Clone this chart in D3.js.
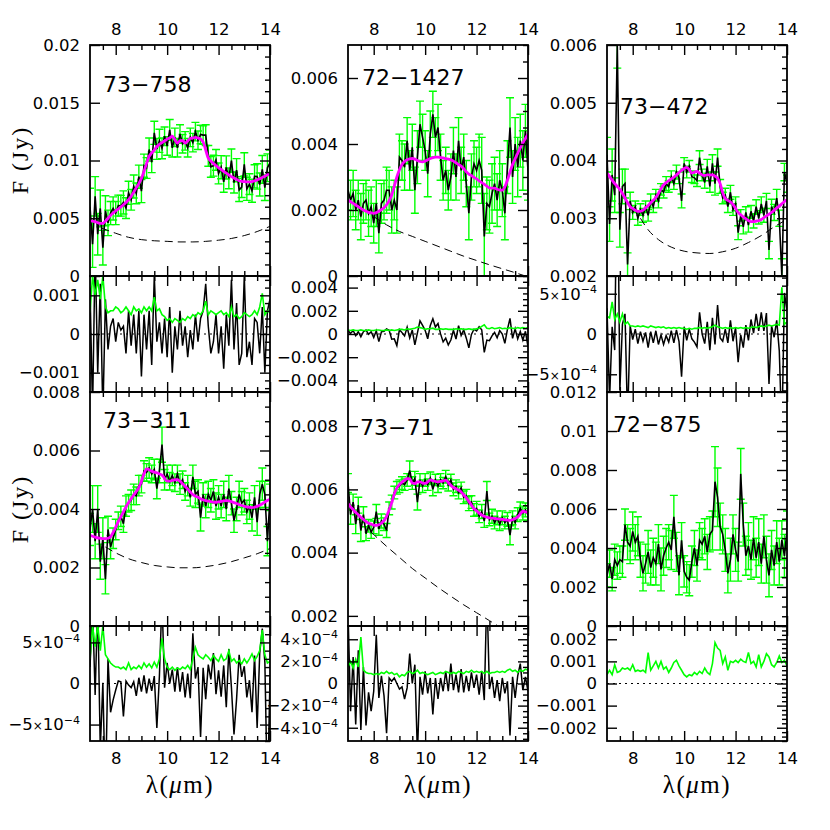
<!DOCTYPE html>
<meta charset="utf-8">
<head>
  <script src="https://cdn.jsdelivr.net/npm/d3@7"></script>
  <style>
    body { margin: 0; background: #fff; }
    svg { display: block; }
  </style>
</head>
<body>
<script type="text/javascript">

// wavelength grid in micron, shared by all six spectra
var lam = [7.0, 7.1, 7.2, 7.3, 7.4, 7.5, 7.6, 7.7, 7.8, 7.9,
  8.0, 8.1, 8.2, 8.3, 8.4, 8.5, 8.6, 8.7, 8.8, 8.9,
  9.0, 9.1, 9.2, 9.3, 9.4, 9.5, 9.6, 9.7, 9.8, 9.9,
  10.0, 10.1, 10.2, 10.3, 10.4, 10.5, 10.6, 10.7, 10.8, 10.9,
  11.0, 11.1, 11.2, 11.3, 11.4, 11.5, 11.6, 11.7, 11.8, 11.9,
  12.0, 12.1, 12.2, 12.3, 12.4, 12.5, 12.6, 12.7, 12.8, 12.9,
  13.0, 13.1, 13.2, 13.3, 13.4, 13.5, 13.6, 13.7, 13.8, 13.9,
  14.0];

// all fluxes below are in mJy (axis labels are written in Jy)
// flux = observed, model = fit (magenta), sig = residual-panel sigma (green line),
// bar = half length of the error bars in the upper panel

// ---- 73-758
var flux_73_758 = [6.0, 2.75, 6.9, 3.62, 5.85, 2.45, 5.65, 4.6, 5.45, 5.85,
  5.45, 6.1, 6.08, 6.37, 5.88, 7.2, 6.6, 7.75, 7.15, 8.6,
  7.35, 9.55, 9.35, 10.95, 9.85, 12.4, 11.0, 11.7, 11.05, 12.1,
  11.25, 12.65, 11.1, 12.0, 11.1, 12.3, 11.45, 11.7, 11.1, 12.0,
  11.55, 12.5, 11.75, 12.25, 12.2, 12.2, 10.4, 9.45, 9.55, 10.05,
  8.88, 9.42, 8.15, 9.4, 8.45, 10.0, 8.08, 9.16, 7.45, 7.7,
  9.67, 7.55, 7.95, 7.38, 8.63, 8.62, 7.92, 9.23, 7.64, 9.37,
  9.8];
var model_73_758 = [4.8, 4.75, 4.7, 4.62, 4.55, 4.55, 4.75, 5.0, 5.25, 5.45,
  5.65, 5.8, 5.98, 6.17, 6.38, 6.6, 6.9, 7.25, 7.65, 8.0,
  8.45, 9.05, 9.75, 10.35, 10.65, 10.9, 11.2, 11.4, 11.55, 11.7,
  11.85, 11.95, 12.1, 11.8, 11.5, 11.7, 11.75, 11.5, 11.7, 11.9,
  11.95, 12.0, 11.95, 11.85, 11.6, 10.9, 10.2, 9.95, 9.75, 9.55,
  9.38, 9.22, 9.05, 8.9, 8.75, 8.6, 8.48, 8.36, 8.25, 8.2,
  8.17, 8.15, 8.15, 8.18, 8.23, 8.32, 8.42, 8.53, 8.64, 8.77,
  8.9];
var sig_73_758 = [0.55, 1.5, 1.0, 1.4, 0.9, 1.5, 0.7, 0.55, 0.6, 0.6,
  0.7, 0.65, 0.55, 0.6, 0.7, 0.6, 0.5, 0.7, 0.6, 0.65,
  0.55, 0.7, 0.6, 0.7, 0.6, 0.95, 0.6, 0.65, 0.5, 0.45,
  0.35, 0.4, 0.3, 0.4, 0.35, 0.3, 0.4, 0.35, 0.45, 0.4,
  0.5, 0.45, 0.55, 0.5, 0.6, 0.85, 0.5, 0.6, 0.55, 0.5,
  0.55, 0.6, 0.5, 0.55, 0.45, 0.7, 0.45, 0.5, 0.4, 0.45,
  0.55, 0.5, 0.45, 0.5, 0.6, 0.5, 0.7, 1.05, 0.5, 0.6,
  0.55];
var bar_73_758 = [1.6, 2.0, 1.7, 1.8, 1.6, 1.5, 1.3, 1.1, 1.0, 1.0,
  1.0, 0.9, 0.9, 1.0, 0.9, 1.0, 0.9, 1.0, 0.9, 1.0,
  1.0, 1.0, 0.9, 1.0, 0.9, 1.0, 0.9, 1.0, 0.9, 0.8,
  0.8, 0.9, 0.8, 0.8, 0.8, 0.8, 0.8, 0.8, 0.8, 0.8,
  0.8, 0.8, 0.8, 0.8, 0.8, 0.9, 0.9, 0.9, 0.9, 0.9,
  0.9, 1.0, 0.9, 1.0, 0.9, 1.0, 0.9, 1.0, 1.0, 0.9,
  1.0, 1.0, 0.9, 1.0, 1.0, 1.1, 1.0, 1.2, 1.1, 1.2,
  1.1];
var contLam_73_758 = [7.45, 8, 8.5, 9, 9.5, 10, 10.5, 11, 11.5, 12, 12.5, 13, 13.5, 14];
var cont_73_758 = [4.15, 3.7, 3.35, 3.15, 3.05, 3.0, 2.95, 2.95, 3.0, 3.1, 3.25, 3.5, 3.85, 4.3];

// ---- 72-1427
var flux_72_1427 = [2.6, 2.3, 2.5, 2.0, 2.3, 1.8, 2.2, 2.3, 1.9, 2.1,
  1.6, 2.2, 1.3, 2.2, 2.3, 2.6, 2.6, 2.0, 2.3, 2.0,
  3.6, 3.5, 3.3, 4.1, 3.2, 3.9, 2.6, 3.6, 4.6, 4.2,
  3.8, 3.1, 4.3, 4.9, 4.2, 4.5, 3.6, 2.9, 3.2, 2.6,
  3.0, 3.8, 3.0, 4.1, 3.2, 3.6, 2.8, 1.9, 3.0, 3.4,
  3.2, 3.5, 3.2, 1.2, 2.2, 2.1, 2.5, 2.8, 2.3, 2.9,
  2.6, 1.9, 3.3, 4.5, 3.0, 4.0, 3.3, 4.1, 3.5, 4.4,
  3.2];
var model_72_1427 = [2.3, 2.25, 2.2, 2.15, 2.1, 2.05, 2.0, 1.96, 1.93, 1.91,
  1.9, 1.92, 1.96, 2.01, 2.07, 2.16, 2.28, 2.45, 2.72, 3.0,
  3.22, 3.38, 3.47, 3.52, 3.55, 3.56, 3.54, 3.5, 3.47, 3.46,
  3.48, 3.52, 3.56, 3.59, 3.6, 3.6, 3.59, 3.58, 3.56, 3.54,
  3.52, 3.48, 3.43, 3.38, 3.33, 3.25, 3.16, 3.09, 3.04, 2.99,
  2.94, 2.88, 2.83, 2.78, 2.72, 2.67, 2.66, 2.66, 2.63, 2.6,
  2.6, 2.7, 2.9, 3.15, 3.38, 3.55, 3.72, 3.88, 4.03, 4.17,
  4.3];
var sig_72_1427 = [0.35, 0.3, 0.35, 0.3, 0.3, 0.35, 0.3, 0.3, 0.35, 0.3,
  0.3, 0.35, 0.35, 0.3, 0.3, 0.35, 0.3, 0.35, 0.3, 0.35,
  0.4, 0.4, 0.35, 0.45, 0.4, 0.45, 0.5, 0.6, 0.55, 0.5,
  0.4, 0.45, 0.45, 0.5, 0.4, 0.4, 0.45, 0.4, 0.45, 0.4,
  0.4, 0.4, 0.45, 0.4, 0.45, 0.4, 0.4, 0.45, 0.4, 0.4,
  0.45, 0.5, 0.65, 0.8, 0.5, 0.45, 0.55, 0.45, 0.5, 0.55,
  0.45, 0.5, 0.45, 0.55, 0.5, 0.45, 0.55, 0.5, 0.55, 0.5,
  0.55];
var bar_72_1427 = [0.6, 0.6, 0.7, 0.6, 0.6, 0.7, 0.6, 0.6, 0.7, 0.6,
  0.6, 0.7, 0.6, 0.6, 0.6, 0.7, 0.6, 0.7, 0.6, 0.7,
  0.7, 0.6, 0.7, 0.7, 0.6, 0.7, 0.7, 0.8, 0.7, 0.7,
  0.6, 0.7, 0.7, 0.7, 0.6, 0.7, 0.7, 0.6, 0.7, 0.6,
  0.7, 0.7, 0.7, 0.7, 0.7, 0.7, 0.7, 0.8, 0.7, 0.7,
  0.7, 0.8, 1.0, 1.3, 0.8, 0.8, 0.9, 0.8, 0.8, 0.9,
  0.8, 0.8, 0.8, 0.9, 0.8, 0.8, 0.9, 0.8, 0.9, 0.8,
  0.9];
var contLam_72_1427 = [8.0, 8.5, 9, 9.5, 10, 10.5, 11, 11.5, 12, 12.5, 13, 13.5, 13.9];
var cont_72_1427 = [1.8, 1.55, 1.35, 1.2, 1.05, 0.9, 0.75, 0.6, 0.47, 0.34, 0.22, 0.1, 0.0];

// ---- 73-472
var flux_73_472 = [4.1, 2.9, 3.75, 3.4, 6.0, 2.8, 3.55, 3.6, 2.2, 3.3,
  3.1, 3.2, 3.0, 3.15, 3.05, 3.2, 3.05, 3.3, 3.2, 3.4,
  3.3, 3.5, 3.45, 3.6, 3.55, 3.72, 3.6, 3.8, 3.7, 3.3,
  3.95, 3.8, 3.9, 3.72, 3.7, 3.65, 4.05, 3.75, 3.62, 3.9,
  3.55, 3.95, 3.6, 4.05, 3.55, 3.35, 3.4, 3.2, 3.45, 3.15,
  3.25, 2.75, 3.05, 2.85, 3.1, 2.88, 3.12, 2.95, 3.2, 3.0,
  3.25, 3.05, 3.3, 2.45, 3.2, 3.1, 3.35, 3.0, 2.0, 3.8,
  3.6];
var model_73_472 = [3.78, 3.72, 3.66, 3.6, 3.55, 3.5, 3.43, 3.35, 3.27, 3.2,
  3.17, 3.14, 3.12, 3.12, 3.14, 3.18, 3.22, 3.27, 3.31, 3.36,
  3.43, 3.51, 3.58, 3.62, 3.65, 3.68, 3.71, 3.75, 3.79, 3.83,
  3.86, 3.88, 3.84, 3.78, 3.8, 3.81, 3.78, 3.75, 3.74, 3.75,
  3.75, 3.75, 3.73, 3.69, 3.6, 3.44, 3.34, 3.31, 3.28, 3.24,
  3.17, 3.1, 3.06, 3.02, 2.99, 2.96, 2.94, 2.94, 2.95, 2.96,
  2.98, 3.01, 3.04, 3.07, 3.1, 3.14, 3.18, 3.21, 3.25, 3.29,
  3.32];
var sig_73_472 = [0.22, 0.2, 0.4, 0.18, 0.25, 0.15, 0.25, 0.12, 0.15, 0.1,
  0.1, 0.09, 0.1, 0.09, 0.1, 0.09, 0.08, 0.1, 0.09, 0.08,
  0.09, 0.08, 0.09, 0.07, 0.08, 0.07, 0.08, 0.07, 0.08, 0.07,
  0.07, 0.06, 0.07, 0.06, 0.07, 0.07, 0.08, 0.07, 0.08, 0.07,
  0.08, 0.09, 0.11, 0.09, 0.08, 0.07, 0.08, 0.07, 0.08, 0.07,
  0.08, 0.07, 0.08, 0.07, 0.08, 0.07, 0.08, 0.09, 0.08, 0.09,
  0.1, 0.09, 0.1, 0.11, 0.1, 0.11, 0.12, 0.11, 0.58, 0.12,
  0.15];
var bar_73_472 = [0.3, 0.3, 0.45, 0.3, 0.4, 0.3, 0.3, 0.25, 0.2, 0.15,
  0.12, 0.1, 0.12, 0.1, 0.12, 0.1, 0.1, 0.12, 0.1, 0.1,
  0.12, 0.1, 0.1, 0.12, 0.1, 0.1, 0.1, 0.12, 0.1, 0.12,
  0.1, 0.1, 0.1, 0.1, 0.1, 0.1, 0.12, 0.1, 0.1, 0.12,
  0.1, 0.15, 0.2, 0.15, 0.12, 0.1, 0.12, 0.1, 0.12, 0.1,
  0.12, 0.12, 0.1, 0.12, 0.1, 0.12, 0.1, 0.12, 0.12, 0.1,
  0.12, 0.12, 0.13, 0.15, 0.13, 0.14, 0.15, 0.14, 0.3, 0.15,
  0.15];
var contLam_73_472 = [8.3, 8.6, 9, 9.5, 10, 10.5, 11, 11.5, 12, 12.5, 13, 13.5, 14];
var cont_73_472 = [3.0, 2.8, 2.63, 2.5, 2.43, 2.4, 2.39, 2.42, 2.48, 2.58, 2.7, 2.85, 2.98];

// ---- 73-311
var flux_73_311 = [3.3, 4.0, 2.9, 4.0, 2.2, 3.0, 1.6, 3.3, 2.7, 3.0,
  3.3, 3.6, 3.75, 3.5, 4.1, 4.2, 4.3, 4.5, 4.45, 4.8,
  4.85, 5.3, 5.25, 5.4, 5.2, 5.35, 4.7, 5.3, 6.2, 5.0,
  5.2, 4.95, 5.15, 4.9, 5.2, 4.85, 5.0, 4.6, 4.8, 4.4,
  5.1, 4.5, 4.6, 3.7, 4.5, 4.1, 4.5, 4.3, 4.6, 4.1,
  4.4, 4.1, 4.5, 4.0, 4.7, 4.2, 3.6, 4.0, 4.5, 4.2,
  4.3, 3.9, 4.1, 3.7, 4.4, 3.55, 4.5, 4.85, 4.5, 2.9,
  4.4];
var model_73_311 = [3.1, 3.07, 3.04, 3.01, 3.0, 2.99, 2.99, 3.0, 3.05, 3.2,
  3.38, 3.57, 3.73, 3.9, 4.07, 4.22, 4.35, 4.48, 4.6, 4.73,
  4.95, 5.2, 5.37, 5.34, 5.29, 5.26, 5.24, 5.2, 5.16, 5.05,
  4.95, 4.95, 4.98, 5.0, 5.0, 4.95, 4.86, 4.77, 4.68, 4.58,
  4.49, 4.44, 4.4, 4.35, 4.31, 4.29, 4.27, 4.25, 4.23, 4.23,
  4.24, 4.26, 4.28, 4.29, 4.28, 4.25, 4.22, 4.19, 4.15, 4.12,
  4.09, 4.07, 4.06, 4.05, 4.06, 4.09, 4.13, 4.18, 4.24, 4.29,
  4.33];
var sig_73_311 = [0.3, 0.7, 0.45, 0.72, 0.4, 0.7, 0.35, 0.3, 0.25, 0.22,
  0.2, 0.2, 0.18, 0.2, 0.17, 0.25, 0.17, 0.2, 0.18, 0.22,
  0.18, 0.25, 0.2, 0.24, 0.19, 0.26, 0.2, 0.3, 0.55, 0.3,
  0.2, 0.17, 0.2, 0.16, 0.19, 0.17, 0.2, 0.18, 0.22, 0.17,
  0.3, 0.44, 0.35, 0.32, 0.3, 0.35, 0.32, 0.28, 0.34, 0.3,
  0.27, 0.35, 0.28, 0.3, 0.4, 0.27, 0.3, 0.25, 0.28, 0.24,
  0.3, 0.25, 0.3, 0.36, 0.28, 0.33, 0.4, 0.65, 0.35, 0.25,
  0.27];
var bar_73_311 = [0.55, 0.8, 0.6, 0.8, 0.6, 0.7, 0.5, 0.45, 0.4, 0.35,
  0.35, 0.3, 0.35, 0.3, 0.35, 0.3, 0.35, 0.35, 0.3, 0.35,
  0.3, 0.35, 0.3, 0.35, 0.3, 0.35, 0.35, 0.4, 0.6, 0.35,
  0.3, 0.3, 0.35, 0.3, 0.3, 0.35, 0.3, 0.3, 0.35, 0.3,
  0.4, 0.45, 0.4, 0.45, 0.4, 0.4, 0.45, 0.4, 0.4, 0.45,
  0.4, 0.4, 0.45, 0.4, 0.45, 0.4, 0.4, 0.4, 0.45, 0.4,
  0.4, 0.4, 0.45, 0.45, 0.4, 0.45, 0.45, 0.55, 0.45, 0.5,
  0.45];
var contLam_73_311 = [7.6, 8, 8.5, 9, 9.5, 10, 10.5, 11, 11.5, 12, 12.5, 13, 13.5, 14];
var cont_73_311 = [2.7, 2.5, 2.3, 2.17, 2.07, 2.02, 1.99, 1.99, 2.03, 2.1, 2.2, 2.33, 2.47, 2.65];

// ---- 73-71
var flux_73_71 = [6.2, 5.2, 5.6, 4.9, 5.5, 4.7, 5.2, 4.6, 4.85, 4.65,
  4.8, 5.3, 4.75, 5.0, 4.9, 4.7, 5.4, 5.6, 5.9, 6.05,
  6.1, 6.2, 6.15, 6.3, 6.6, 6.2, 6.35, 5.6, 6.3, 6.1,
  6.3, 6.15, 6.35, 6.0, 6.3, 6.1, 6.3, 6.2, 6.4, 6.15,
  6.3, 6.0, 6.1, 5.9, 6.05, 5.75, 5.8, 5.55, 5.6, 5.35,
  5.4, 5.15, 5.3, 5.0, 5.95, 5.05, 5.15, 4.95, 5.1, 4.9,
  5.1, 4.95, 5.05, 4.55, 5.1, 4.95, 5.2, 5.4, 5.25, 5.35,
  5.2];
var model_73_71 = [5.55, 5.45, 5.36, 5.27, 5.2, 5.12, 5.05, 4.98, 4.93, 4.9,
  4.87, 4.86, 4.88, 4.93, 5.01, 5.15, 5.35, 5.58, 5.85, 6.05,
  6.15, 6.23, 6.29, 6.34, 6.33, 6.2, 6.18, 6.24, 6.24, 6.2,
  6.19, 6.24, 6.3, 6.28, 6.25, 6.24, 6.25, 6.27, 6.29, 6.22,
  6.12, 6.06, 6.02, 5.98, 5.92, 5.83, 5.73, 5.62, 5.5, 5.39,
  5.32, 5.25, 5.19, 5.15, 5.12, 5.1, 5.09, 5.08, 5.07, 5.06,
  5.05, 5.04, 5.03, 5.02, 5.04, 5.08, 5.13, 5.22, 5.31, 5.29,
  5.27];
var sig_73_71 = [0.15, 0.2, 0.14, 0.22, 0.15, 0.42, 0.12, 0.1, 0.09, 0.09,
  0.08, 0.09, 0.08, 0.1, 0.09, 0.11, 0.09, 0.1, 0.08, 0.09,
  0.06, 0.08, 0.07, 0.1, 0.11, 0.09, 0.1, 0.12, 0.09, 0.1,
  0.09, 0.08, 0.09, 0.1, 0.08, 0.09, 0.1, 0.09, 0.11, 0.1,
  0.09, 0.1, 0.09, 0.11, 0.1, 0.09, 0.11, 0.1, 0.12, 0.1,
  0.11, 0.1, 0.11, 0.09, 0.11, 0.09, 0.1, 0.1, 0.11, 0.1,
  0.11, 0.1, 0.12, 0.13, 0.11, 0.12, 0.1, 0.12, 0.11, 0.13,
  0.12];
var bar_73_71 = [0.3, 0.3, 0.25, 0.3, 0.25, 0.35, 0.25, 0.22, 0.2, 0.2,
  0.2, 0.22, 0.2, 0.22, 0.2, 0.22, 0.2, 0.22, 0.2, 0.2,
  0.2, 0.2, 0.18, 0.2, 0.3, 0.2, 0.22, 0.25, 0.2, 0.2,
  0.2, 0.18, 0.2, 0.2, 0.18, 0.2, 0.2, 0.18, 0.2, 0.2,
  0.18, 0.2, 0.2, 0.2, 0.18, 0.2, 0.2, 0.22, 0.2, 0.2,
  0.22, 0.2, 0.22, 0.2, 0.3, 0.2, 0.22, 0.2, 0.22, 0.2,
  0.22, 0.2, 0.22, 0.3, 0.22, 0.2, 0.22, 0.2, 0.22, 0.22,
  0.2];
var contLam_73_71 = [7.9, 8.5, 9, 9.5, 10, 10.5, 11, 11.5, 12, 12.5, 12.8];
var cont_73_71 = [4.65, 4.2, 3.85, 3.5, 3.2, 2.9, 2.62, 2.35, 2.1, 1.85, 1.7];

// ---- 72-875 (no fit)
var flux_72_875 = [2.6, 3.2, 2.4, 3.4, 3.1, 3.4, 3.3, 5.2, 4.3, 4.1,
  4.85, 4.3, 4.6, 3.4, 2.7, 3.2, 3.8, 3.0, 3.5, 3.2,
  4.2, 2.9, 3.6, 4.0, 4.3, 3.9, 5.6, 3.8, 2.6, 4.4,
  2.8, 2.5, 2.35, 3.3, 4.0, 3.1, 4.4, 4.2, 4.6, 3.8,
  4.7, 4.9, 7.4, 6.6, 5.1, 4.7, 3.9, 2.7, 3.4, 4.7,
  3.9, 3.3, 7.8, 5.2, 3.6, 4.1, 3.4, 4.5, 3.5, 4.3,
  3.2, 4.6, 3.4, 2.6, 3.9, 3.1, 4.3, 3.3, 4.4, 3.6,
  4.9];
var sig_72_875 = [0.4, 0.6, 0.4, 0.85, 0.5, 0.55, 0.7, 0.65, 0.7, 0.6,
  0.85, 0.55, 0.6, 0.55, 0.6, 0.5, 1.4, 0.6, 0.8, 1.0,
  0.7, 1.0, 0.65, 0.75, 0.5, 0.7, 0.95, 1.05, 0.8, 0.6,
  0.4, 0.3, 0.4, 0.35, 0.5, 0.4, 0.55, 0.45, 0.7, 0.5,
  0.4, 0.9, 1.85, 1.6, 1.5, 0.9, 1.2, 0.6, 1.0, 0.95,
  1.05, 0.95, 1.1, 1.0, 0.95, 1.4, 0.9, 1.0, 0.75, 1.3,
  0.75, 1.0, 1.35, 1.2, 0.85, 0.75, 0.95, 1.25, 0.95, 1.05,
  0.8];
var bar_72_875 = [0.6, 0.7, 0.6, 0.8, 0.7, 0.7, 0.8, 0.8, 0.9, 0.9,
  1.0, 0.9, 1.0, 0.9, 0.9, 1.0, 1.1, 0.9, 1.0, 1.1,
  1.0, 1.1, 1.0, 1.0, 0.9, 1.0, 1.1, 1.0, 1.0, 0.9,
  0.8, 0.8, 0.8, 0.8, 0.9, 0.8, 0.9, 0.8, 0.9, 0.9,
  0.9, 1.0, 1.8, 1.5, 1.2, 1.0, 1.1, 1.0, 1.1, 1.0,
  1.1, 1.0, 1.3, 1.1, 1.0, 1.2, 1.0, 1.1, 1.0, 1.2,
  1.0, 1.1, 1.2, 1.1, 1.0, 1.0, 1.1, 1.2, 1.0, 1.1,
  1.0];

var xMajor = [8, 10, 12, 14];
var xMinor = [7.5, 8.5, 9, 9.5, 10.5, 11, 11.5, 12.5, 13, 13.5];

// layout
var cols = [[90, 270], [348, 528], [607, 787]];
var rows = [{top: 45, mid: 276, bot: 392}, {top: 392, mid: 626, bot: 741}];

var panels = [
  {name: "73\u2212758", col: 0, row: 0, fl: flux_73_758, md: model_73_758, sg: sig_73_758, br: bar_73_758,
   cl: contLam_73_758, cf: cont_73_758, ydom: [0, 20], ymaj: 5, ymin: 1,
   rmax: 1.5, rmaj: 1, rmin: 0.2, sci: false, lx: 103, ly: 92},
  {name: "72\u22121427", col: 1, row: 0, fl: flux_72_1427, md: model_72_1427, sg: sig_72_1427, br: bar_72_1427,
   cl: contLam_72_1427, cf: cont_72_1427, ydom: [0, 7], ymaj: 2, ymin: 0.5,
   rmax: 5, rmaj: 2, rmin: 0.5, sci: false, lx: 362, ly: 85},
  {name: "73\u2212472", col: 2, row: 0, fl: flux_73_472, md: model_73_472, sg: sig_73_472, br: bar_73_472,
   cl: contLam_73_472, cf: cont_73_472, ydom: [2, 6], ymaj: 1, ymin: 0.2,
   rmax: 0.72, rmaj: 0.5, rmin: 0.1, sci: true, lx: 620, ly: 114},
  {name: "73\u2212311", col: 0, row: 1, fl: flux_73_311, md: model_73_311, sg: sig_73_311, br: bar_73_311,
   cl: contLam_73_311, cf: cont_73_311, ydom: [0, 8], ymaj: 2, ymin: 0.5,
   rmax: 0.7, rmaj: 0.5, rmin: 0.1, sci: true, lx: 103, ly: 428},
  {name: "73\u221271", col: 1, row: 1, fl: flux_73_71, md: model_73_71, sg: sig_73_71, br: bar_73_71,
   cl: contLam_73_71, cf: cont_73_71, ydom: [1.68, 9.08], ymaj: 2, ymin: 0.5,
   rmax: 0.52, rmaj: 0.2, rmin: 0.05, sci: true, lx: 360, ly: 435},
  {name: "72\u2212875", col: 2, row: 1, fl: flux_72_875, md: null, sg: sig_72_875, br: bar_72_875,
   cl: null, cf: null, ydom: [0, 12], ymaj: 2, ymin: 0.5,
   rmax: 2.6, rmaj: 1, rmin: 0.2, sci: false, lx: 613, ly: 432}
];

var svg = d3.select("body").append("svg")
    .attr("width", 830)
    .attr("height", 830);
var defs = svg.append("defs");

var green = "#00ff00", magenta = "#ff00ff";

function stepTicks(lo, hi, step) {
  var out = [];
  var start = Math.ceil(lo / step - 1e-9);
  for (var i = start; i * step <= hi + 1e-9; i++) out.push(Math.round(i * step * 1e6) / 1e6);
  return out;
}

// mJy -> Jy label
var fmtJy = function(v) { return v === 0 ? "0" : d3.format("~g")(v / 1000); };

function drawAxes(x, y, yTop, yBot, ymaj, ymin, yfmt, sci, topLab, botLab) {
  var x0 = x.range()[0], x1 = x.range()[1];
  var g = svg.append("g");
  var left = g.append("g").attr("transform", "translate(" + x0 + ",0)");
  left.call(d3.axisLeft(y).tickValues(ymin).tickSize(-5).tickFormat(""));
  left.call(d3.axisLeft(y).tickValues(ymaj).tickSize(-10).tickPadding(10).tickFormat(yfmt));
  var right = g.append("g").attr("transform", "translate(" + x1 + ",0)");
  right.append("g").call(d3.axisRight(y).tickValues(ymin).tickSize(-5).tickFormat(""));
  right.append("g").call(d3.axisRight(y).tickValues(ymaj).tickSize(-10).tickFormat(""));
  var top = g.append("g").attr("transform", "translate(0," + yTop + ")");
  top.append("g").call(d3.axisTop(x).tickValues(xMinor).tickSize(-5).tickFormat(""));
  top.append("g").call(d3.axisTop(x).tickValues(xMajor).tickSize(-10).tickPadding(10)
      .tickFormat(topLab ? d3.format("d") : ""));
  var bot = g.append("g").attr("transform", "translate(0," + yBot + ")");
  bot.append("g").call(d3.axisBottom(x).tickValues(xMinor).tickSize(-5).tickFormat(""));
  bot.append("g").call(d3.axisBottom(x).tickValues(xMajor).tickSize(-10).tickPadding(11)
      .tickFormat(botLab ? d3.format("d") : ""));

  g.selectAll(".domain").remove();
  g.selectAll(".tick line").attr("stroke", "#000").attr("stroke-width", 1.4);
  g.selectAll(".tick text")
    .attr("font-family", "DejaVu Sans, sans-serif")
    .attr("font-size", 16.5)
    .attr("fill", "#000");

  if (sci) {
    left.selectAll(".tick text").each(function(d) {
      if (d === 0) return;
      var t = d3.select(this).text(null);
      var m = Math.round(d * 10);
      t.append("tspan").text((m < 0 ? "\u2212" : "") + Math.abs(m));
      t.append("tspan").attr("font-size", 12).text("\u00d7");
      t.append("tspan").text("10");
      t.append("tspan").attr("font-size", 11).attr("dy", "-0.6em").text("\u22124");
    });
  }

  g.append("rect")
    .attr("x", x0).attr("y", yTop)
    .attr("width", x1 - x0).attr("height", yBot - yTop)
    .attr("fill", "none").attr("stroke", "#000").attr("stroke-width", 1.8);
}

panels.forEach(function(p, k) {
  var x0 = cols[p.col][0], x1 = cols[p.col][1];
  var r = rows[p.row];
  var x = d3.scaleLinear().domain([7, 14]).range([x0, x1]);
  var y = d3.scaleLinear().domain(p.ydom).range([r.mid, r.top]);
  var yr = d3.scaleLinear().domain([-p.rmax, p.rmax]).range([r.bot, r.mid]);

  defs.append("clipPath").attr("id", "cm" + k).append("rect")
    .attr("x", x0).attr("y", r.top).attr("width", x1 - x0).attr("height", r.mid - r.top);
  defs.append("clipPath").attr("id", "cr" + k).append("rect")
    .attr("x", x0).attr("y", r.mid).attr("width", x1 - x0).attr("height", r.bot - r.mid);

  var pts = lam.map(function(l, i) {
    return {l: l, f: p.fl[i], b: p.br[i], s: p.sg[i], m: p.md ? p.md[i] : null};
  });

  // ---- upper panel
  var gm = svg.append("g").attr("clip-path", "url(#cm" + k + ")");

  gm.selectAll("path.err")
    .data(pts)
    .enter()
    .append("path")
    .attr("class", "err")
    .attr("d", function(d) {
      var xx = x(d.l), ya = y(d.f - d.b), yb = y(d.f + d.b);
      return "M" + (xx - 4) + "," + ya + "H" + (xx + 4) +
             "M" + xx + "," + ya + "V" + yb +
             "M" + (xx - 4) + "," + yb + "H" + (xx + 4);
    })
    .attr("fill", "none")
    .attr("stroke", green)
    .attr("stroke-width", 1.4);

  gm.append("path")
    .datum(pts)
    .attr("d", d3.line().x(function(d) { return x(d.l); }).y(function(d) { return y(d.f); }))
    .attr("fill", "none")
    .attr("stroke", "#000")
    .attr("stroke-width", 1.6);

  if (p.cl) {
    gm.append("path")
      .datum(p.cl.map(function(l, i) { return [l, p.cf[i]]; }))
      .attr("d", d3.line().curve(d3.curveMonotoneX)
          .x(function(d) { return x(d[0]); }).y(function(d) { return y(d[1]); }))
      .attr("fill", "none")
      .attr("stroke", "#000")
      .attr("stroke-width", 1)
      .attr("stroke-dasharray", "8,5");
  }

  if (p.md) {
    gm.append("path")
      .datum(pts)
      .attr("d", d3.line().curve(d3.curveMonotoneX)
          .x(function(d) { return x(d.l); }).y(function(d) { return y(d.m); }))
      .attr("fill", "none")
      .attr("stroke", magenta)
      .attr("stroke-width", 2.8);
  }

  var ymaj = stepTicks(p.ydom[0], p.ydom[1], p.ymaj);
  var ymin = stepTicks(p.ydom[0], p.ydom[1], p.ymin).filter(function(v) {
    return ymaj.indexOf(v) < 0;
  });
  drawAxes(x, y, r.top, r.mid, ymaj, ymin, fmtJy, false, p.row === 0, false);

  svg.append("text")
    .attr("x", p.lx).attr("y", p.ly)
    .attr("font-family", "DejaVu Sans, sans-serif")
    .attr("font-size", 22)
    .text(p.name);

  // ---- residual panel
  var gr = svg.append("g").attr("clip-path", "url(#cr" + k + ")");

  gr.append("line")
    .attr("x1", x0).attr("x2", x1)
    .attr("y1", yr(0)).attr("y2", yr(0))
    .attr("stroke", "#000")
    .attr("stroke-width", 1.2)
    .attr("stroke-dasharray", "2,4");

  if (p.md) {
    gr.append("path")
      .datum(pts)
      .attr("d", d3.line().x(function(d) { return x(d.l); }).y(function(d) { return yr(d.f - d.m); }))
      .attr("fill", "none")
      .attr("stroke", "#000")
      .attr("stroke-width", 1.5);
  }

  gr.append("path")
    .datum(pts)
    .attr("d", d3.line().x(function(d) { return x(d.l); }).y(function(d) { return yr(d.s); }))
    .attr("fill", "none")
    .attr("stroke", green)
    .attr("stroke-width", 1.6);

  var rmaj = stepTicks(-p.rmax, p.rmax, p.rmaj);
  var rmin = stepTicks(-p.rmax, p.rmax, p.rmin).filter(function(v) {
    return rmaj.indexOf(v) < 0;
  });
  drawAxes(x, yr, r.mid, r.bot, rmaj, rmin, p.sci ? function(v) { return v === 0 ? "0" : ""; } : fmtJy,
           p.sci, false, p.row === 1);
});

// axis titles
[160, 509].forEach(function(cy) {
  svg.append("text")
    .attr("transform", "translate(28," + cy + ") rotate(-90)")
    .attr("text-anchor", "middle")
    .attr("font-family", "Liberation Serif, serif")
    .attr("font-size", 24)
    .attr("letter-spacing", 2)
    .text("F (Jy)");
});

cols.forEach(function(c) {
  var t = svg.append("text")
    .attr("x", (c[0] + c[1]) / 2).attr("y", 793)
    .attr("text-anchor", "middle")
    .attr("font-family", "Liberation Serif, serif")
    .attr("font-size", 25)
    .attr("letter-spacing", 1.5);
  t.append("tspan").text("\u03bb(");
  t.append("tspan").attr("font-style", "italic").text("\u03bc");
  t.append("tspan").text("m)");
});

</script>
</body>
